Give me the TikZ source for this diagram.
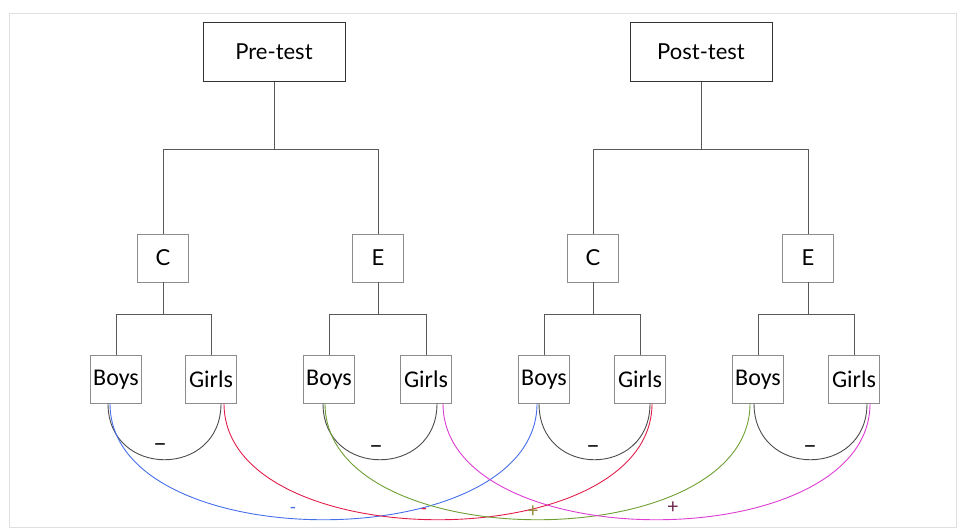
\documentclass[tikz,border=0pt]{standalone}
\usepackage{fontspec}
\setmainfont{Lato}
\newfontfamily\kidfont{Carlito}
\usetikzlibrary{positioning}

\definecolor{arcblue}{RGB}{70,110,235}
\definecolor{arcred}{RGB}{225,30,75}
\definecolor{arcgreen}{RGB}{110,160,50}
\definecolor{arcpink}{RGB}{220,60,210}
\definecolor{plusolive}{RGB}{150,140,60}
\definecolor{plusplum}{RGB}{110,40,80}

\begin{document}
\begin{tikzpicture}
        [x=1pt, y=-1pt,
         every node/.style={rectangle, draw=black!45, inner sep=0pt, minimum width=51pt, minimum height=48pt, font=\fontsize{22}{26}\selectfont},
         test/.style={draw=black!80, minimum width=142pt, minimum height=59pt},
         kid/.style={font=\kidfont\fontsize{24}{28}\selectfont},
         sign/.style={draw=none, minimum width=0pt, minimum height=0pt, font=\fontsize{24}{24}\selectfont},
         tree/.style={draw=black!65, line width=0.8pt},
         pair/.style={draw=black!70, line width=0.9pt},
         cross/.style={line width=0.9pt}]
        \useasboundingbox (0,0) rectangle (957,528);
        \draw [black!12] (9,13) rectangle (956.5,527.5);
        % pre-test side
        \node [test] (pre) at (274,52) {Pre-test};
        \node [below=152pt of pre, xshift=-111pt] (prec) {C};
        \node [below=152pt of pre, xshift=104pt] (pree) {E};
        \node [kid, below=73pt of prec, xshift=-47pt] (precb) {Boys};
        \node [kid, below=73pt of prec, xshift=48pt] (precg) {Girls};
        \node [kid, below=73pt of pree, xshift=-49pt] (preeb) {Boys};
        \node [kid, below=73pt of pree, xshift=48pt] (preeg) {Girls};
        % post-test side
        \node [test] (post) at (701,52) {Post-test};
        \node [below=152pt of post, xshift=-108pt] (postc) {C};
        \node [below=152pt of post, xshift=107pt] (poste) {E};
        \node [kid, below=73pt of postc, xshift=-49pt] (postcb) {Boys};
        \node [kid, below=73pt of postc, xshift=47pt] (postcg) {Girls};
        \node [kid, below=73pt of poste, xshift=-50pt] (posteb) {Boys};
        \node [kid, below=73pt of poste, xshift=46pt] (posteg) {Girls};
        % tree lines
        \draw [tree] (pre.south) -- ++(0,68) coordinate (prej);
        \draw [tree] (prec.north) |- (prej) -| (pree.north);
        \draw [tree] (post.south) -- ++(0,68) coordinate (postj);
        \draw [tree] (postc.north) |- (postj) -| (poste.north);
        \draw [tree] (prec.south) -- ++(0,32) coordinate (precj);
        \draw [tree] (precb.north) |- (precj) -| (precg.north);
        \draw [tree] (pree.south) -- ++(0,32) coordinate (preej);
        \draw [tree] (preeb.north) |- (preej) -| (preeg.north);
        \draw [tree] (postc.south) -- ++(0,32) coordinate (postcj);
        \draw [tree] (postcb.north) |- (postcj) -| (postcg.north);
        \draw [tree] (poste.south) -- ++(0,32) coordinate (postej);
        \draw [tree] (posteb.north) |- (postej) -| (posteg.north);
        % boys with girls
        \draw [pair] ([xshift=-8pt]precb.south) .. controls +(0,75) and +(0,75) .. ([xshift=10pt]precg.south);
        \draw [pair] ([xshift=-6pt]preeb.south) .. controls +(0,75) and +(0,75) .. ([xshift=11pt]preeg.south);
        \draw [pair] ([xshift=-5pt]postcb.south) .. controls +(0,75) and +(0,75) .. ([xshift=10pt]postcg.south);
        \draw [pair] ([xshift=-4pt]posteb.south) .. controls +(0,75) and +(0,75) .. ([xshift=13pt]posteg.south);
        \node [sign] (precs) at (160,448) {--};
        \node [sign] (prees) at (376,450) {--};
        \node [sign] (postcs) at (593,450) {--};
        \node [sign] (postes) at (810,450) {--};
        % pre with post
        \draw [cross, arcblue] ([xshift=-6pt]precb.south) .. controls +(0,155) and +(0,155) .. ([xshift=-7pt]postcb.south);
        \draw [cross, arcred] ([xshift=13pt]precg.south) .. controls +(0,155) and +(0,155) .. ([xshift=12pt]postcg.south);
        \draw [cross, arcgreen] ([xshift=-4pt]preeb.south) .. controls +(0,155) and +(0,155) .. ([xshift=-8pt]posteb.south);
        \draw [cross, arcpink] ([xshift=17pt]preeg.south) .. controls +(0,155) and +(0,155) .. ([xshift=16pt]posteg.south);
        \node [sign, font=\fontsize{18}{18}\selectfont, text=arcblue] (blues) at (293,510) {-};
        \node [sign, font=\fontsize{18}{18}\selectfont, text=arcred] (reds) at (424,511) {-};
        \node [sign, font=\fontsize{20}{20}\selectfont, text=plusolive] (greens) at (533,512) {+};
        \node [sign, font=\fontsize{20}{20}\selectfont, text=plusplum] (pinks) at (673,508) {+};
\end{tikzpicture}
\end{document}
